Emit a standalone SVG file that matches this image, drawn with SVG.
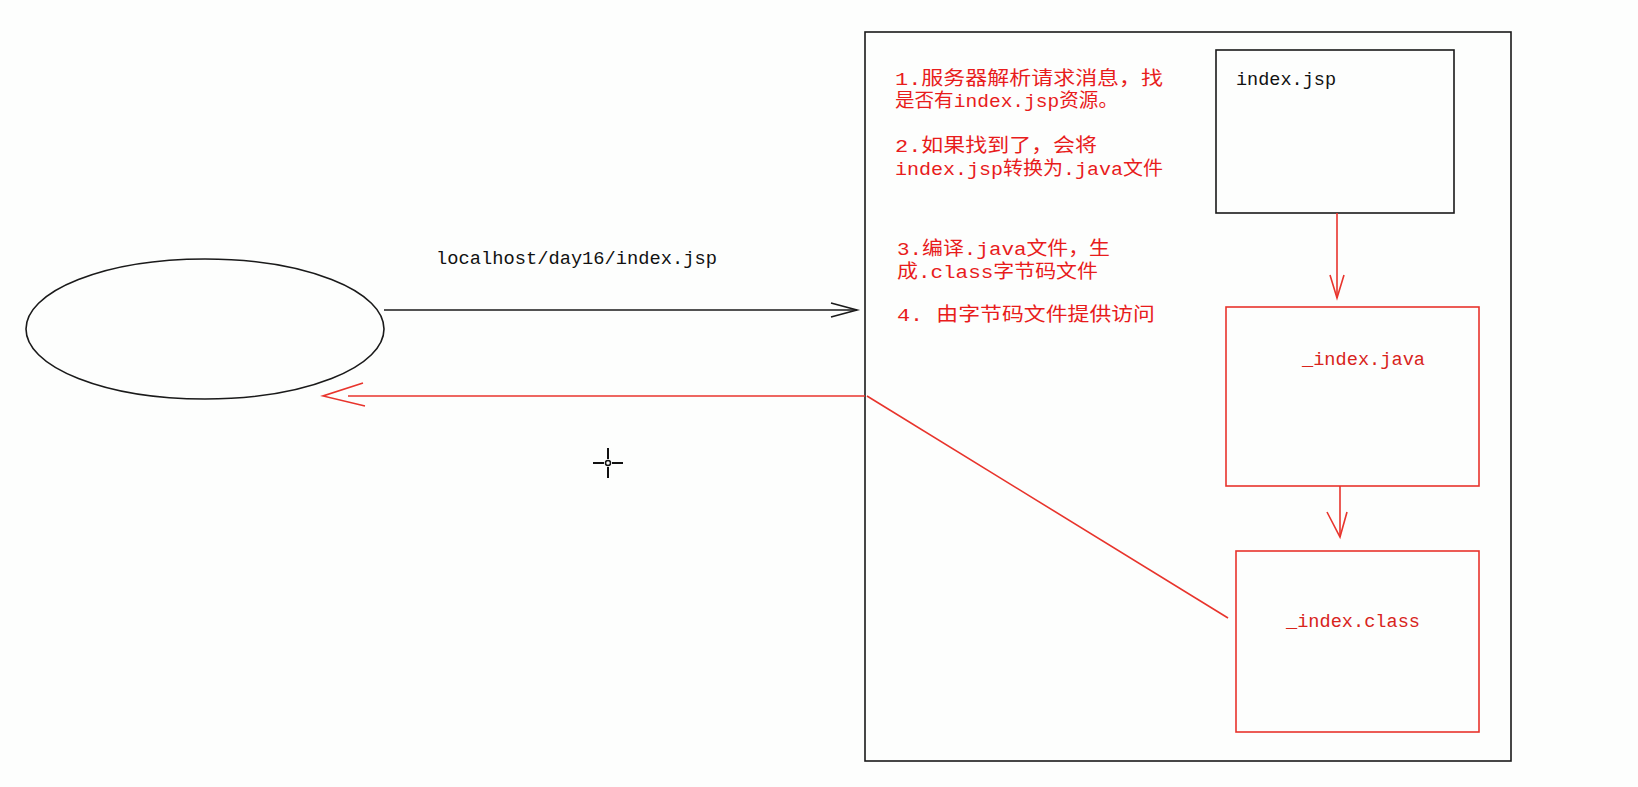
<svg xmlns="http://www.w3.org/2000/svg" width="1638" height="787" viewBox="0 0 1638 787">
<style>
.blk{fill:none;stroke:#1a1a1a;stroke-width:1.6}
.red{fill:none;stroke:#e8342c;stroke-width:1.6}
.rt{fill:#e81c1c;font-family:"Liberation Mono","Noto Sans CJK SC",monospace;font-size:19px}
.bt{fill:#111;font-family:"Liberation Mono","Noto Sans CJK SC",monospace;font-size:19px}
.rbt{fill:#d8241c;font-family:"Liberation Mono","Noto Sans CJK SC",monospace;font-size:19px}
</style>
<rect x="0" y="0" width="1638" height="787" fill="#fdfefd"/>
<g id="server">
<rect x="865" y="32" width="646" height="729" class="blk" stroke-width="2"/>
<text class="rt" x="895" y="85" textLength="268" lengthAdjust="spacingAndGlyphs">1.服务器解析请求消息，找</text>
<text class="rt" x="895" y="107" textLength="223" lengthAdjust="spacingAndGlyphs">是否有index.jsp资源。</text>
<text class="rt" x="895" y="152" textLength="202" lengthAdjust="spacingAndGlyphs">2.如果找到了，会将</text>
<text class="rt" x="895" y="175" textLength="268" lengthAdjust="spacingAndGlyphs">index.jsp转换为.java文件</text>
<text class="rt" x="897" y="255" textLength="213" lengthAdjust="spacingAndGlyphs">3.编译.java文件，生</text>
<text class="rt" x="897" y="278" textLength="201" lengthAdjust="spacingAndGlyphs">成.class字节码文件</text>
<text class="rt" x="897" y="321" textLength="258" lengthAdjust="spacingAndGlyphs">4. 由字节码文件提供访问</text>
</g>
<g id="client">
<ellipse cx="205" cy="329" rx="179" ry="70" class="blk"/>
</g>
<g id="jsp">
<rect x="1216" y="50" width="238" height="163" class="blk"/>
<text class="bt" x="1236" y="85" textLength="100" lengthAdjust="spacingAndGlyphs">index.jsp</text>
</g>
<g id="java">
<rect x="1226" y="307" width="253" height="179" class="red"/>
<text class="rbt" x="1302" y="365" textLength="123" lengthAdjust="spacingAndGlyphs">_index.java</text>
</g>
<g id="class">
<rect x="1236" y="551" width="243" height="181" class="red"/>
<text class="rbt" x="1286" y="627" textLength="134" lengthAdjust="spacingAndGlyphs">_index.class</text>
</g>
<g id="connectors">
<line x1="384" y1="310" x2="857" y2="310" class="blk"/>
<polyline points="831,303 857,310 831,317" class="blk"/>
<text class="bt" x="436" y="264" textLength="281" lengthAdjust="spacingAndGlyphs">localhost/day16/index.jsp</text>
<line x1="865" y1="396" x2="348" y2="396" class="red"/>
<polyline points="363,383 323,396 365,406" class="red"/>
<line x1="867" y1="396" x2="1228" y2="618" class="red"/>
<line x1="1337" y1="213" x2="1337" y2="298" class="red"/>
<polyline points="1330,275 1337,298 1344,275" class="red"/>
<line x1="1340" y1="486" x2="1340" y2="537" class="red"/>
<polyline points="1327,512 1340,537 1347,512" class="red"/>
</g>
<g id="cursor" stroke="#111" stroke-width="2" fill="none">
<line x1="593" y1="463" x2="604" y2="463"/>
<line x1="612" y1="463" x2="623" y2="463"/>
<line x1="608" y1="448" x2="608" y2="459"/>
<line x1="608" y1="467" x2="608" y2="478"/>
<circle cx="608" cy="463" r="2.5" stroke-width="1.5"/>
</g>
</svg>
